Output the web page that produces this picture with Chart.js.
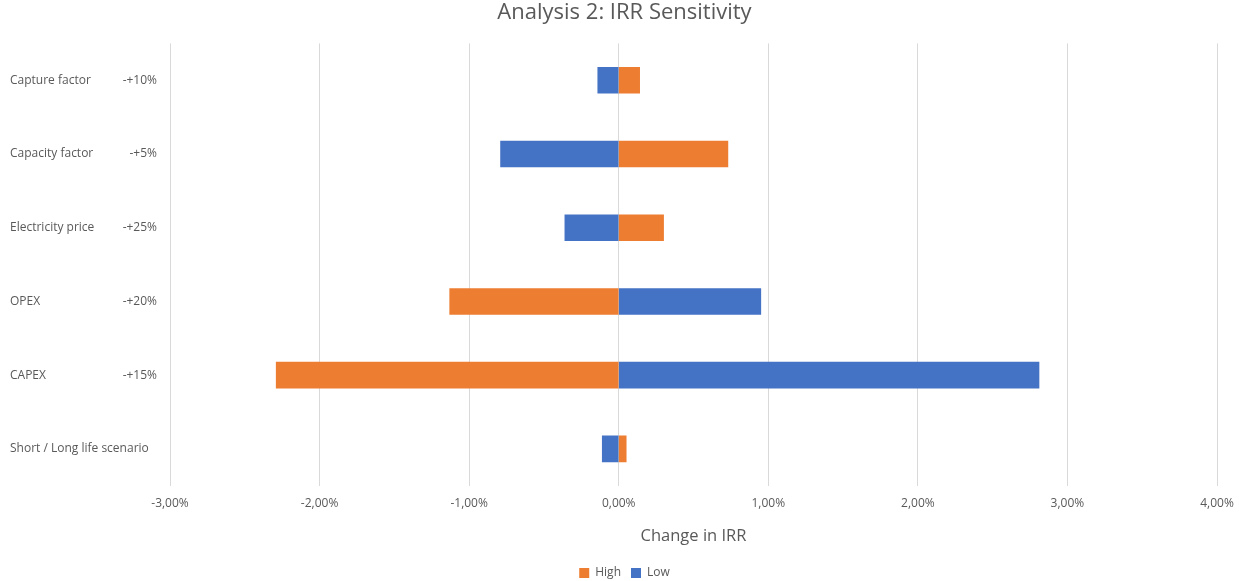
<!DOCTYPE html>
<html>
<head>
<meta charset="utf-8">
<script src="https://cdn.jsdelivr.net/npm/chart.js@4"></script>
<style>
  html, body { margin: 0; padding: 0; background: #fff; }
  #wrap { width: 1239px; height: 581px; }
</style>
</head>
<body>
<div id="wrap"><canvas id="grafico"></canvas></div>
<script>
// categorias e valores (variação da TIR em %)
const categorias = ['Capture factor', 'Capacity factor', 'Electricity price', 'OPEX', 'CAPEX', 'Short / Long life scenario'];
const variacoes = ['-+10%', '-+5%', '-+25%', '-+20%', '-+15%', ''];
const valoresHigh = [0.14, 0.73, 0.30, -1.13, -2.29, 0.05];
const valoresLow = [-0.14, -0.79, -0.36, 0.95, 2.81, -0.11];
const ticksX = [-3, -2, -1, 0, 1, 2, 3, 4];

const fonte = "'Open Sans', sans-serif";
const cinza = '#595959';

// segunda coluna de rótulos do eixo Y (faixa de variação)
const rotulosVariacao = {
    id: 'rotulosVariacao',
    afterDraw(chart) {
        const { ctx, chartArea, scales } = chart;
        ctx.save();
        ctx.font = '12px ' + fonte;
        ctx.fillStyle = cinza;
        ctx.textAlign = 'right';
        ctx.textBaseline = 'middle';
        variacoes.forEach((t, i) => {
            ctx.fillText(t, chartArea.left - 13, scales.y.getPixelForValue(i));
        });
        ctx.restore();
    }
};

const ctx = document.getElementById('grafico').getContext('2d');

new Chart(ctx, {
    type: 'bar',
    data: {
        labels: categorias,
        datasets: [{
            label: 'High',
            data: valoresHigh,
            backgroundColor: '#ED7D31',
            borderWidth: 0,
            barThickness: 26
        }, {
            label: 'Low',
            data: valoresLow,
            backgroundColor: '#4472C4',
            borderWidth: 0,
            barThickness: 26
        }]
    },
    options: {
        indexAxis: 'y',
        responsive: true,
        maintainAspectRatio: false,
        animation: false,
        plugins: {
            title: {
                display: true,
                text: 'Analysis 2: IRR Sensitivity',
                font: { size: 22, family: fonte, weight: 'normal' },
                color: cinza,
                padding: { top: 0, bottom: 17 }
            },
            legend: {
                position: 'bottom',
                labels: {
                    font: { size: 12, family: fonte },
                    color: cinza,
                    boxWidth: 10,
                    boxHeight: 10,
                    padding: 10
                }
            },
            tooltip: { enabled: false }
        },
        scales: {
            x: {
                stacked: true,
                min: ticksX[0],
                max: ticksX[ticksX.length - 1],
                afterBuildTicks: function(axis) {
                    axis.ticks = ticksX.map(v => ({ value: v }));
                },
                afterFit: function(axis) { axis.paddingRight = 22; },
                ticks: {
                    callback: v => v.toFixed(2).replace('.', ',') + '%',
                    font: { size: 12, family: fonte },
                    color: cinza,
                    padding: 11
                },
                grid: { color: '#d9d9d9', drawTicks: false },
                border: { display: false },
                title: {
                    display: true,
                    text: 'Change in IRR',
                    font: { size: 16.5, family: fonte },
                    color: cinza,
                    padding: { top: 4, bottom: 11 }
                }
            },
            y: {
                stacked: true,
                position: 'left',
                afterFit: function(axis) { axis.width = 160; },
                ticks: {
                    crossAlign: 'far',
                    font: { size: 12, family: fonte },
                    color: cinza
                },
                grid: { display: false, drawTicks: false },
                border: { display: false }
            }
        },
        layout: {
            padding: { left: 10, right: 0, top: 0, bottom: -8 }
        }
    },
    plugins: [rotulosVariacao]
});
</script>
</body>
</html>
